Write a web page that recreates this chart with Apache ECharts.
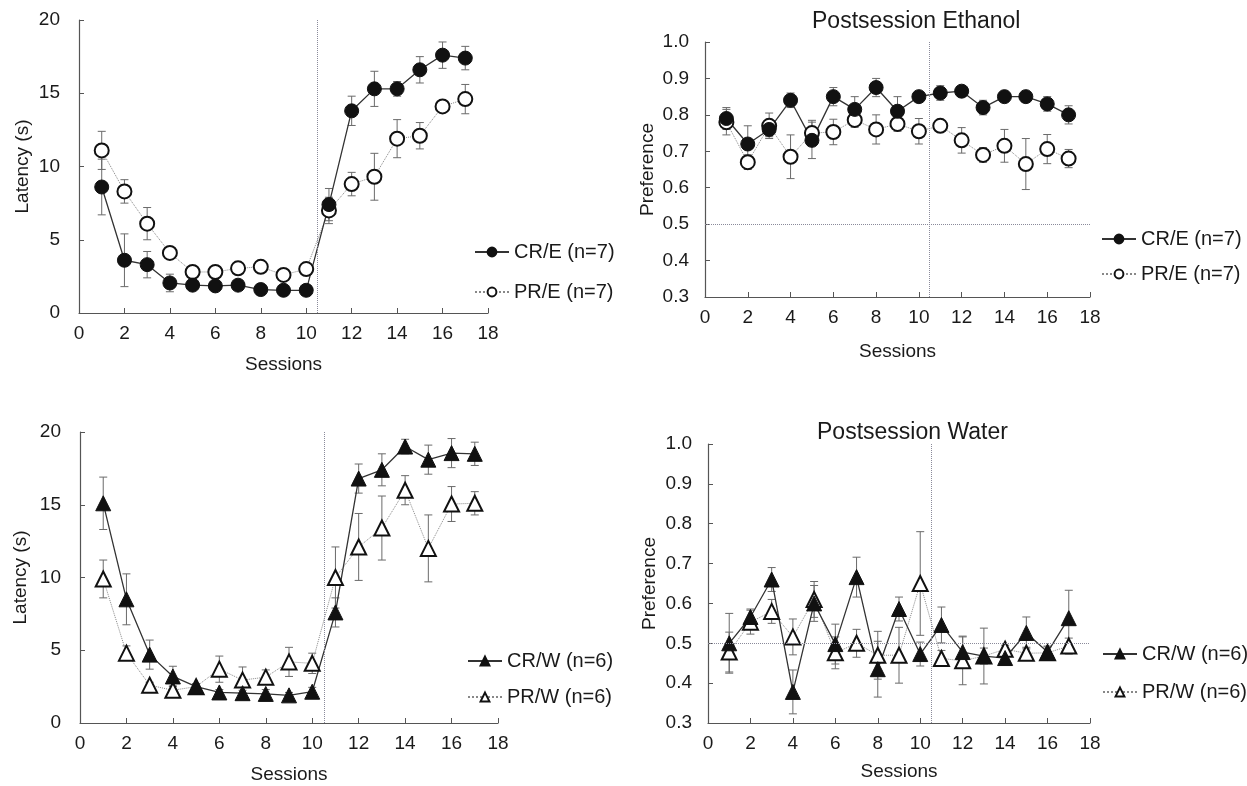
<!DOCTYPE html>
<html>
<head>
<meta charset="UTF-8">
<title>Latency and preference</title>
<script src="https://cdn.jsdelivr.net/npm/echarts@6/dist/echarts.min.js"></script>
<style>
  body { margin: 0; background: #fff; }
  #chart { width: 1247px; height: 786px; }
</style>
</head>
<body>
<div id="chart"></div>
<script>
// sessions 1..17
var sessions = [1, 2, 3, 4, 5, 6, 7, 8, 9, 10, 11, 12, 13, 14, 15, 16, 17];

// top-left: latency, ethanol groups
var creLat    = [8.6, 3.6, 3.3, 2.05, 1.9, 1.85, 1.9, 1.6, 1.55, 1.55, 7.4, 13.8, 15.3, 15.3, 16.6, 17.6, 17.4];
var creLatErr = [1.9, 1.8, 0.9, 0.6, 0.2, 0.2, 0.2, 0.2, 0.2, 0.2, 1.1, 1.0, 1.2, 0.5, 0.9, 0.9, 0.8];
var preLat    = [11.1, 8.3, 6.1, 4.1, 2.8, 2.8, 3.05, 3.15, 2.6, 3.0, 7.0, 8.8, 9.3, 11.9, 12.1, 14.1, 14.6];
var preLatErr = [1.3, 0.8, 1.1, 0.2, 0.2, 0.2, 0.2, 0.2, 0.2, 0.2, 0.9, 0.8, 1.6, 1.3, 0.9, 0.3, 1.0];

// top-right: postsession ethanol preference
var crePref    = [0.79, 0.72, 0.76, 0.84, 0.73, 0.85, 0.815, 0.875, 0.81, 0.85, 0.86, 0.865, 0.82, 0.85, 0.85, 0.83, 0.80];
var crePrefErr = [0.03, 0.05, 0.02, 0.02, 0.05, 0.025, 0.035, 0.025, 0.04, 0.01, 0.02, 0.01, 0.02, 0.015, 0.015, 0.02, 0.025];
var prePref    = [0.78, 0.67, 0.77, 0.685, 0.75, 0.753, 0.786, 0.76, 0.775, 0.755, 0.77, 0.73, 0.69, 0.715, 0.665, 0.706, 0.68];
var prePrefErr = [0.035, 0.02, 0.035, 0.06, 0.035, 0.035, 0.02, 0.04, 0.02, 0.035, 0.015, 0.035, 0.02, 0.045, 0.07, 0.04, 0.025];

// bottom-left: latency, water groups
var crwLat    = [15.1, 8.5, 4.7, 3.2, 2.5, 2.1, 2.05, 2.0, 1.9, 2.15, 7.6, 16.8, 17.4, 19.0, 18.1, 18.55, 18.5];
var crwLatErr = [1.8, 1.75, 1.0, 0.7, 0.2, 0.2, 0.2, 0.3, 0.2, 0.3, 1.0, 1.0, 1.1, 0.5, 1.0, 1.0, 0.8];
var prwLat    = [9.9, 4.8, 2.6, 2.25, 2.5, 3.7, 2.95, 3.15, 4.2, 4.1, 10.0, 12.1, 13.4, 16.0, 12.0, 15.05, 15.1];
var prwLatErr = [1.3, 0.5, 0.2, 0.3, 0.2, 0.9, 0.9, 0.5, 1.0, 0.7, 2.1, 2.3, 2.2, 1.0, 2.3, 1.2, 0.8];

// bottom-right: postsession water preference
var crwPref    = [0.50, 0.566, 0.66, 0.378, 0.60, 0.498, 0.666, 0.435, 0.586, 0.473, 0.546, 0.478, 0.468, 0.463, 0.526, 0.478, 0.563];
var crwPrefErr = [0.075, 0.02, 0.03, 0.055, 0.045, 0.05, 0.05, 0.07, 0.03, 0.03, 0.045, 0.04, 0.02, 0.01, 0.04, 0.015, 0.07];
var prwPref    = [0.478, 0.553, 0.58, 0.516, 0.61, 0.476, 0.50, 0.47, 0.47, 0.65, 0.462, 0.456, 0.468, 0.485, 0.475, 0.476, 0.493];
var prwPrefErr = [0.05, 0.03, 0.03, 0.045, 0.045, 0.04, 0.035, 0.06, 0.07, 0.13, 0.02, 0.06, 0.07, 0.01, 0.015, 0.015, 0.02];

var titles = ['Postsession Ethanol', 'Postsession Water'];
var legendNames = [['CR/E (n=7)', 'PR/E (n=7)'], ['CR/W (n=6)', 'PR/W (n=6)']];

var FONT = '"Liberation Sans", Arial, sans-serif';
var INK = '#1a1a1a';
var AXIS = '#555';

function pairs(ys) {
    return sessions.map(function (s, i) { return [s, ys[i]]; });
}
function errs(ys, es) {
    return sessions.map(function (s, i) { return [s, ys[i] - es[i], ys[i] + es[i]]; });
}

function xAxisCfg(gi, gap) {
    return {
        gridIndex: gi, type: 'value', min: 0, max: 18, interval: 2,
        name: 'Sessions', nameLocation: 'middle', nameGap: gap,
        nameTextStyle: { fontFamily: FONT, fontSize: 19, color: INK },
        axisLine: { lineStyle: { color: AXIS, width: 1.2 } },
        axisTick: { inside: true, length: 5, lineStyle: { color: AXIS } },
        axisLabel: { fontFamily: FONT, fontSize: 19, color: INK, margin: 11 },
        splitLine: { show: false }
    };
}
function yAxisCfg(gi, name, min, max, step, dec, gap, margin) {
    return {
        gridIndex: gi, type: 'value', min: min, max: max, interval: step,
        name: name, nameLocation: 'middle', nameGap: gap,
        nameTextStyle: { fontFamily: FONT, fontSize: 19, color: INK },
        axisLine: { show: true, lineStyle: { color: AXIS, width: 1.2 } },
        axisTick: { show: true, inside: true, length: 5, lineStyle: { color: AXIS } },
        axisLabel: {
            fontFamily: FONT, fontSize: 19, color: INK, margin: margin,
            formatter: function (v) { return dec ? v.toFixed(1) : String(Math.round(v)); }
        },
        splitLine: { show: false }
    };
}

function errorSeries(gi, data) {
    return {
        type: 'custom', xAxisIndex: gi, yAxisIndex: gi, z: 1, silent: true,
        encode: { x: 0, y: [1, 2] },
        data: data,
        renderItem: function (params, api) {
            var lo = api.coord([api.value(0), api.value(1)]);
            var hi = api.coord([api.value(0), api.value(2)]);
            var w = 4;
            var st = { stroke: '#6a6a6a', lineWidth: 1 };
            return {
                type: 'group',
                children: [
                    { type: 'line', shape: { x1: lo[0], y1: lo[1], x2: hi[0], y2: hi[1] }, style: st },
                    { type: 'line', shape: { x1: lo[0] - w, y1: lo[1], x2: lo[0] + w, y2: lo[1] }, style: st },
                    { type: 'line', shape: { x1: hi[0] - w, y1: hi[1], x2: hi[0] + w, y2: hi[1] }, style: st }
                ]
            };
        }
    };
}

function lineSeries(gi, name, data, filled, symbol, marks) {
    var s = {
        type: 'line', name: name, xAxisIndex: gi, yAxisIndex: gi, z: 3,
        data: data, symbol: symbol, symbolSize: symbol === 'circle' ? 14 : 15,
        showAllSymbol: true, animation: false,
        lineStyle: filled ? { color: '#333', width: 1.3, type: 'solid' }
                          : { color: '#888', width: 1, type: 'dotted' },
        itemStyle: filled ? { color: '#111', borderColor: '#111', borderWidth: 1 }
                          : { color: '#fff', borderColor: '#111', borderWidth: 2 }
    };
    if (marks) {
        s.markLine = {
            silent: true, symbol: 'none', label: { show: false }, animation: false,
            lineStyle: { color: '#8a8a9a', type: 'dotted', width: 1 },
            data: marks
        };
    }
    return s;
}

function legendCfg(names, left, top, gap) {
    return {
        orient: 'vertical', left: left, top: top, itemGap: gap,
        itemWidth: 34, itemHeight: 11,
        data: names,
        textStyle: { fontFamily: FONT, fontSize: 20, color: INK }
    };
}

var grids = [
    { left: 79, top: 20, width: 409, height: 293 },
    { left: 705, top: 42, width: 385, height: 255 },
    { left: 80, top: 432, width: 418, height: 291 },
    { left: 708, top: 444, width: 382, height: 279 }
];

var vMark = [{ xAxis: 10.5 }];
var vhMark = [{ xAxis: 10.5 }, { yAxis: 0.5 }];

var titleStyle = { fontFamily: FONT, fontSize: 23, fontWeight: 'normal', color: INK };

var option = {
    backgroundColor: '#fff',
    animation: false,
    title: [
        { text: titles[0], left: 807, top: 5, textStyle: titleStyle },
        { text: titles[1], left: 812, top: 416, textStyle: titleStyle }
    ],
    grid: grids,
    xAxis: [xAxisCfg(0, 42), xAxisCfg(1, 45), xAxisCfg(2, 42), xAxisCfg(3, 39)],
    yAxis: [
        yAxisCfg(0, 'Latency (s)', 0, 20, 5, false, 47, 19),
        yAxisCfg(1, 'Preference', 0.3, 1.0, 0.1, true, 48, 16),
        yAxisCfg(2, 'Latency (s)', 0, 20, 5, false, 50, 19),
        yAxisCfg(3, 'Preference', 0.3, 1.0, 0.1, true, 49, 16)
    ],
    legend: [
        legendCfg(legendNames[0], 469, 237, 20),
        legendCfg(legendNames[0], 1096, 224, 15),
        legendCfg(legendNames[1], 462, 646, 16),
        legendCfg(legendNames[1], 1097, 639, 18)
    ],
    series: [
        errorSeries(0, errs(preLat, preLatErr)),
        errorSeries(0, errs(creLat, creLatErr)),
        lineSeries(0, legendNames[0][1], pairs(preLat), false, 'circle', vMark),
        lineSeries(0, legendNames[0][0], pairs(creLat), true, 'circle'),

        errorSeries(1, errs(prePref, prePrefErr)),
        errorSeries(1, errs(crePref, crePrefErr)),
        lineSeries(1, legendNames[0][1], pairs(prePref), false, 'circle', vhMark),
        lineSeries(1, legendNames[0][0], pairs(crePref), true, 'circle'),

        errorSeries(2, errs(prwLat, prwLatErr)),
        errorSeries(2, errs(crwLat, crwLatErr)),
        lineSeries(2, legendNames[1][1], pairs(prwLat), false, 'triangle', vMark),
        lineSeries(2, legendNames[1][0], pairs(crwLat), true, 'triangle'),

        errorSeries(3, errs(prwPref, prwPrefErr)),
        errorSeries(3, errs(crwPref, crwPrefErr)),
        lineSeries(3, legendNames[1][1], pairs(prwPref), false, 'triangle', vhMark),
        lineSeries(3, legendNames[1][0], pairs(crwPref), true, 'triangle')
    ]
};

var chart = echarts.init(document.getElementById('chart'));
chart.setOption(option);
</script>
</body>
</html>
